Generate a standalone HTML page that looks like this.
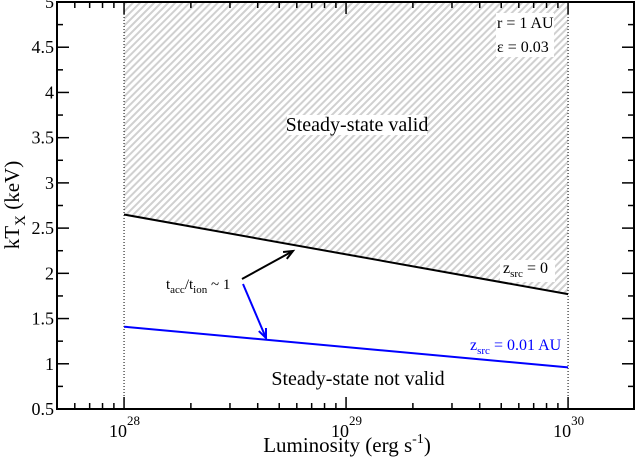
<!DOCTYPE html>
<html><head><meta charset="utf-8"><style>
html,body{margin:0;padding:0;background:#fff;}
svg{display:block;font-family:"Liberation Serif",serif;}
</style></head><body>
<svg id="chart" width="635" height="458">
<defs>
<pattern id="hatch" patternUnits="userSpaceOnUse" width="5" height="5" patternTransform="rotate(45)">
<rect width="2" height="5" fill="#d0d0d0"/>
</pattern>
</defs>
<g id="plot"></g>
</svg>
<script>
const xTicks=[1e28,1e29,1e30];
const xTickExp=["28","29","30"];
const yTicks=[0.5,1,1.5,2,2.5,3,3.5,4,4.5,5];
const yTickLabels=["0.5","1","1.5","2","2.5","3","3.5","4","4.5","5"];
const lumX=[1e28,1e30];
const zsrc0=[2.65,1.77];
const zsrc001=[1.41,0.96];

const L=57,R=634,T=2,B=409;
const lx0=27.698,lx1=30.297;
function xs(v){return L+(Math.log10(v)-lx0)/(lx1-lx0)*(R-L);}
function ys(v){return B-(v-0.5)/4.5*(B-T);}
const g=document.getElementById('plot');
const NS='http://www.w3.org/2000/svg';
function mk(t,a,p){const e=document.createElementNS(NS,t);for(const k in a)e.setAttribute(k,a[k]);(p||g).appendChild(e);return e;}

let hp=mk('polygon',{points:`${xs(lumX[0])},${ys(5)} ${xs(lumX[1])},${ys(5)} ${xs(lumX[1])},${ys(zsrc0[1])} ${xs(lumX[0])},${ys(zsrc0[0])}`,fill:'url(#hatch)'});


mk('rect',{x:496,y:13,width:58,height:44,fill:'#fff'});
mk('rect',{x:287,y:115,width:140,height:20,fill:'#fff'});
mk('rect',{x:500,y:260,width:55,height:22,fill:'#fff'});

[1e28,1e30].forEach(v=>{let l=mk('line',{x1:xs(v),x2:xs(v),y1:T,y2:B,stroke:'#000','stroke-width':1,'stroke-dasharray':'1,2'});

});

let s1=mk('polyline',{points:lumX.map((v,i)=>xs(v)+','+ys(zsrc0[i])).join(' '),stroke:'#000','stroke-width':2,fill:'none'});


let s2=mk('polyline',{points:lumX.map((v,i)=>xs(v)+','+ys(zsrc001[i])).join(' '),stroke:'#00f','stroke-width':2,fill:'none'});



let fr=mk('rect',{x:L,y:T,width:R-L,height:B-T,fill:'none',stroke:'#000','stroke-width':2});



for(let d=27;d<=30;d++){for(let m=1;m<10;m++){const v=m*Math.pow(10,d);const x=xs(v);if(x<L+1||x>R-1)continue;const len=m==1?12:6;
mk('line',{x1:x,x2:x,y1:B,y2:B-len,stroke:'#000','stroke-width':1.5});mk('line',{x1:x,x2:x,y1:T,y2:T+len,stroke:'#000','stroke-width':1.5});}}
xTicks.forEach((v,i)=>{let t=mk('text',{x:xs(v)-15,y:437,'font-size':18});t.textContent='10';
let s=mk('tspan',{dy:-12,'font-size':13},t);s.textContent=xTickExp[i];

});
for(let v=0.5;v<=5.001;v+=0.25){const y=ys(v);const major=Math.abs(v*2-Math.round(v*2))<1e-6;const len=major?12:6;
mk('line',{x1:L,x2:L+len,y1:y,y2:y,stroke:'#000','stroke-width':1.5});mk('line',{x1:R,x2:R-len,y1:y,y2:y,stroke:'#000','stroke-width':1.5});}
yTicks.forEach((v,i)=>{let t=mk('text',{x:54,y:ys(v)+6,'font-size':18,'text-anchor':'end'});t.textContent=yTickLabels[i];

});

let xt=mk('text',{x:347,y:452,'font-size':21,'text-anchor':'middle'});xt.innerHTML='Luminosity (erg s<tspan dy="-9" font-size="14">-1</tspan><tspan dy="9">)</tspan>';


let yt=mk('text',{x:0,y:0,'font-size':21,'text-anchor':'middle',transform:'translate(19,205) rotate(-90)'});yt.innerHTML='kT<tspan dy="6" font-size="15">X</tspan><tspan dy="-6"> (keV)</tspan>';



function txt(x,y,html,size,name,fill,anchor){let t=mk('text',{x:x,y:y,'font-size':size,fill:fill||'#000','text-anchor':anchor||'start'});t.innerHTML=html;

return t;}
txt(497,28,'r = 1 AU',16,'param-r');
txt(497,52,'ε = 0.03',16,'param-epsilon');
txt(357,131,'Steady-state valid',20,'valid-label','#000','middle');
txt(358,385,'Steady-state not valid',20,'not-valid-label','#000','middle');
txt(503,273,'z<tspan dy="4" font-size="11">src</tspan><tspan dy="-4"> = 0</tspan>',16,'zsrc-0-label');
txt(470,350,'z<tspan dy="4" font-size="11">src</tspan><tspan dy="-4"> = 0.01 AU</tspan>',16,'zsrc-001-label','#00f');
txt(166,289,'t<tspan dy="4" font-size="11">acc</tspan><tspan dy="-4">/t</tspan><tspan dy="4" font-size="11">ion</tspan><tspan dy="-4"> ~ 1</tspan>',15,'timescale-label');

function arrow(x1,y1,x2,y2,c,name){let l=mk('line',{x1:x1,y1:y1,x2:x2,y2:y2,stroke:c,'stroke-width':2});


const a=Math.atan2(y2-y1,x2-x1),h=10,w=0.4;
mk('polyline',{points:`${x2-h*Math.cos(a-w)},${y2-h*Math.sin(a-w)} ${x2},${y2} ${x2-h*Math.cos(a+w)},${y2-h*Math.sin(a+w)}`,stroke:c,'stroke-width':2,fill:'none'});}
arrow(242,279,293,251,'#000','arrow-to-zsrc-0');
arrow(243,284,266,338,'#00f','arrow-to-zsrc-001');
</script>
</body></html>
